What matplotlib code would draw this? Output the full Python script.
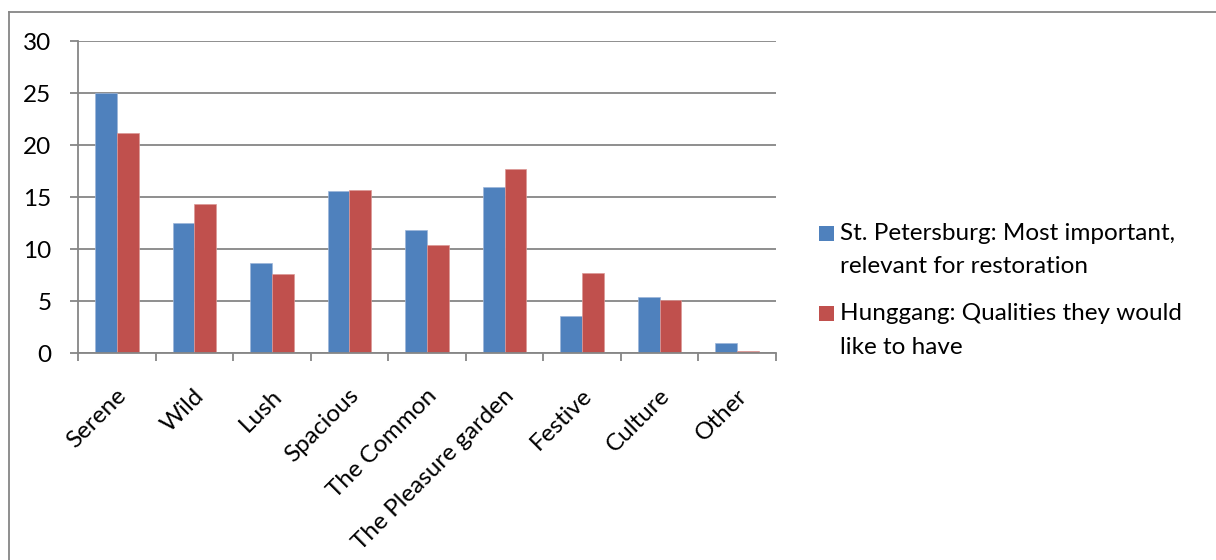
import matplotlib
matplotlib.use("Agg")
import matplotlib.pyplot as plt
from matplotlib.lines import Line2D
from matplotlib.patches import Rectangle
from matplotlib.transforms import ScaledTranslation
import numpy as np

plt.rcParams['font.family'] = ['Lato', 'DejaVu Sans']

categories = ["Serene", "Wild", "Lush", "Spacious", "The Common",
              "The Pleasure garden", "Festive", "Culture", "Other"]
st_petersburg = [25.0, 12.5, 8.7, 15.6, 11.8, 16.0, 3.6, 5.4, 1.0]
hunggang = [21.2, 14.3, 7.6, 15.7, 10.4, 17.7, 7.7, 5.1, 0.2]
series_labels = ["St. Petersburg: Most important,\nrelevant for restoration",
                 "Hunggang: Qualities they would\nlike to have"]
y_ticks = [0, 5, 10, 15, 20, 25, 30]

BLUE = "#4F81BD"
RED = "#C0504D"
GRID = "#868686"
FS = 17.5

W, H = 1216, 560
fig = plt.figure(figsize=(W / 100, H / 100), dpi=100)

# plot area in pixel terms
left, right, top, bottom = 78, 776, 41, 353
ax = fig.add_axes([left / W, 1 - bottom / H, (right - left) / W, (bottom - top) / H])

x = np.arange(len(categories))
bw = 0.281
ax.bar(x - bw / 2, st_petersburg, bw, color=BLUE, edgecolor="#9DB6DA", linewidth=0.5, zorder=3)
ax.bar(x + bw / 2, hunggang, bw, color=RED, edgecolor="#DC9896", linewidth=0.5, zorder=3)

ax.set_xlim(-0.5, len(categories) - 0.5)
ax.set_ylim(0, 30)
ax.set_yticks(y_ticks)
ax.set_yticklabels([str(v) for v in y_ticks], fontsize=FS)
ax.yaxis.grid(True, color=GRID, linewidth=1.3, zorder=0)
ax.set_axisbelow(True)

for side in ("top", "right"):
    ax.spines[side].set_visible(False)
for side in ("left", "bottom"):
    ax.spines[side].set_color(GRID)
    ax.spines[side].set_linewidth(1.3)
    ax.spines[side].set_zorder(4)

ax.tick_params(axis="y", length=6, width=1.3, color=GRID, pad=13, direction="out")
# category boundary ticks on the x axis, labels drawn separately
ax.set_xticks(np.arange(len(categories) + 1) - 0.5)
ax.set_xticklabels([])
ax.tick_params(axis="x", length=6, width=1.3, color=GRID, direction="out")

label_off = ScaledTranslation(11 / 100, -44 / 100, fig.dpi_scale_trans)
for i, name in enumerate(categories):
    ax.text(i, 0, name, transform=ax.get_xaxis_transform() + label_off,
            rotation=45, rotation_mode="anchor", ha="right", va="baseline",
            fontsize=FS, color="black")

# legend
entries = [(BLUE, 226, series_labels[0]), (RED, 306, series_labels[1])]
for color, ytop, label in entries:
    fig.patches.append(Rectangle((819 / W, 1 - (ytop + 15) / H), 15 / W, 15 / H,
                                 transform=fig.transFigure, facecolor=color,
                                 edgecolor="none"))
    for j, line in enumerate(label.split("\n")):
        fig.text(840 / W, 1 - (ytop + 14.5 + 33 * j) / H, line,
                 fontsize=FS, va="baseline", ha="left", color="black")

# chart area frame
fig.lines.append(Line2D([8.5 / W, 8.5 / W], [0, 1 - 11.5 / H], transform=fig.transFigure,
                        color=GRID, linewidth=1.3))
fig.lines.append(Line2D([8.5 / W, 1], [1 - 11.5 / H, 1 - 11.5 / H], transform=fig.transFigure,
                        color=GRID, linewidth=1.3))

fig.savefig("out.png", dpi=100, facecolor="white")
